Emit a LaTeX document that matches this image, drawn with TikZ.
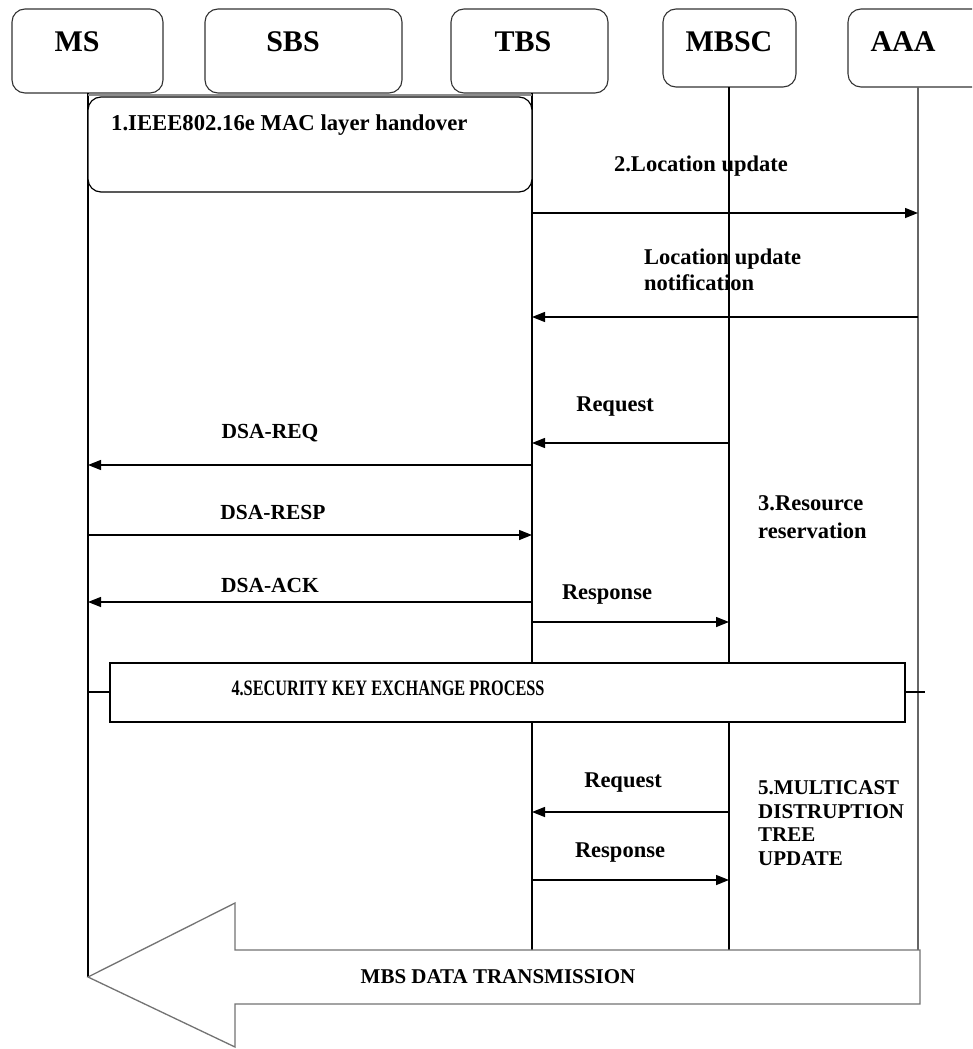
\documentclass[tikz,border=0pt]{standalone}
\usepackage{fontspec}
\usepackage{graphicx}
\setmainfont{Liberation Serif}
\usetikzlibrary{arrows.meta}
\begin{document}
\begin{tikzpicture}[x=1pt,y=1pt,
  head/.style={draw=black!80,line width=1.1pt,rounded corners=13pt,fill=white},
  headtxt/.style={inner sep=0pt,font=\fontsize{30}{34}\selectfont\bfseries},
  life/.style={draw=black,line width=1.2pt},
  msg/.style={draw=black,line width=1.4pt,-{Triangle[length=13pt,width=10pt]}},
  lbl/.style={inner sep=0pt,font=\fontsize{22.5}{26}\selectfont\bfseries},
  caps/.style={inner sep=0pt,font=\fontsize{21.5}{26}\selectfont\bfseries},
  procbox/.style={draw=black,line width=1.3pt,fill=white}]
\useasboundingbox (0,0) rectangle (972,-1049);
\clip (0,0) rectangle (972,-1049);
\fill[white] (0,0) rectangle (972,-1049);

% entity boxes
\node[head,minimum width=151pt,minimum height=84pt] (ms)   at (87.5,-51) {};
\node[head,minimum width=197pt,minimum height=84pt] (sbs)  at (303.5,-51) {};
\node[head,minimum width=157pt,minimum height=84pt] (tbs)  at (529.5,-51) {};
\node[head,minimum width=133pt,minimum height=78pt] (mbsc) at (729.5,-48) {};
\node[head,minimum width=140pt,minimum height=78pt] (aaa)  at (918,-48) {};
\node[headtxt] (msT)   at (77,-42)  {MS};
\node[headtxt] (sbsT)  at (293,-42) {SBS};
\node[headtxt] (tbsT)  at (523,-42) {TBS};
\node[headtxt] (mbscT) at (729,-42) {MBSC};
\node[headtxt] (aaaT)  at (903,-42) {AAA};

% lifeline anchors
\coordinate (lMS)   at (88,-93);
\coordinate (lTBS)  at (532,-93);
\coordinate (lMBSC) at (729,-87);
\coordinate (lAAA)  at (918,-87);
\coordinate (tip)   at (88,-977);

% lifelines
\draw[life] (lMS) -- (tip);
\draw[life] (lTBS) -- (lTBS |- 0,-950);
\draw[life] (lMBSC) -- (lMBSC |- 0,-950);
\draw[life,draw=black!60] (lAAA) -- (lAAA |- 0,-950);

% step 1: MAC layer handover
\draw[draw=black!45,line width=2.5pt] (lMS |- 0,-95) -- (lTBS |- 0,-95);
\node[draw=black,line width=1.2pt,rounded corners=13pt,fill=white,
      minimum width=444pt,minimum height=95pt] (hand) at (310,-144.5) {};
\node[lbl,anchor=west,font=\fontsize{22.7}{26}\selectfont\bfseries] (handT) at (111,-125) {1.IEEE802.16e MAC layer handover};

% step 2: location update
\draw[msg] (lTBS |- 0,-213) -- (lAAA |- 0,-213);
\node[lbl] (locT) at (701,-166) {2.Location update};
\draw[msg] (lAAA |- 0,-317) -- (lTBS |- 0,-317);
\node[lbl,anchor=west,align=left] (notT) at (644,-270) {Location update\\notification};

% step 3: resource reservation
\draw[msg] (lMBSC |- 0,-443) -- (lTBS |- 0,-443);
\node[lbl] (req1) at (615,-407) {Request};
\draw[msg] (lTBS |- 0,-465) -- (lMS |- 0,-465);
\node[caps] (dreq) at (270,-433) {DSA-REQ};
\draw[msg] (lMS |- 0,-535) -- (lTBS |- 0,-535);
\node[caps] (dresp) at (273,-512) {DSA-RESP};
\draw[msg] (lTBS |- 0,-602) -- (lMS |- 0,-602);
\node[caps] (dack) at (270,-585) {DSA-ACK};
\draw[msg] (lTBS |- 0,-622) -- (lMBSC |- 0,-622);
\node[lbl] (resp1) at (607,-595) {Response};
\node[lbl,anchor=west,align=left,font=\fontsize{22.5}{28}\selectfont\bfseries] (resT) at (758,-517) {3.Resource\\reservation};

% step 4: security key exchange
\coordinate (secL) at (110,-692);
\coordinate (secR) at (905,-692);
\draw[life] (lMS |- secL) -- (secL);
\draw[life] (secR) -- (925,-692);
\node[procbox,minimum width=795pt,minimum height=59pt] (sec) at (507.5,-692.5) {};
\node[lbl,font=\fontsize{22}{26}\selectfont\bfseries] (secT) at (388,-688)
  {\scalebox{0.74}[1]{4.SECURITY KEY EXCHANGE PROCESS}};

% step 5: multicast distribution tree update
\draw[msg] (lMBSC |- 0,-812) -- (lTBS |- 0,-812);
\node[lbl] (req2) at (623,-783) {Request};
\draw[msg] (lTBS |- 0,-880) -- (lMBSC |- 0,-880);
\node[lbl] (resp2) at (620,-853) {Response};
\node[lbl,anchor=west,align=left,font=\fontsize{21}{23.5}\selectfont\bfseries] (mcT) at (758,-823)
  {5.MULTICAST\\DISTRUPTION\\TREE\\UPDATE};

% MBS data transmission
\draw[draw=black!55,line width=1.3pt,fill=white,line join=miter]
  (920,-950) -- (235,-950) -- (235,-903) -- (tip) -- (235,-1047) -- (235,-1004) -- (920,-1004) -- cycle;
\node[lbl,font=\fontsize{21}{26}\selectfont\bfseries] (dataT) at (498,-977)
  {MBS DATA TRANSMISSION};
\end{tikzpicture}
\end{document}
